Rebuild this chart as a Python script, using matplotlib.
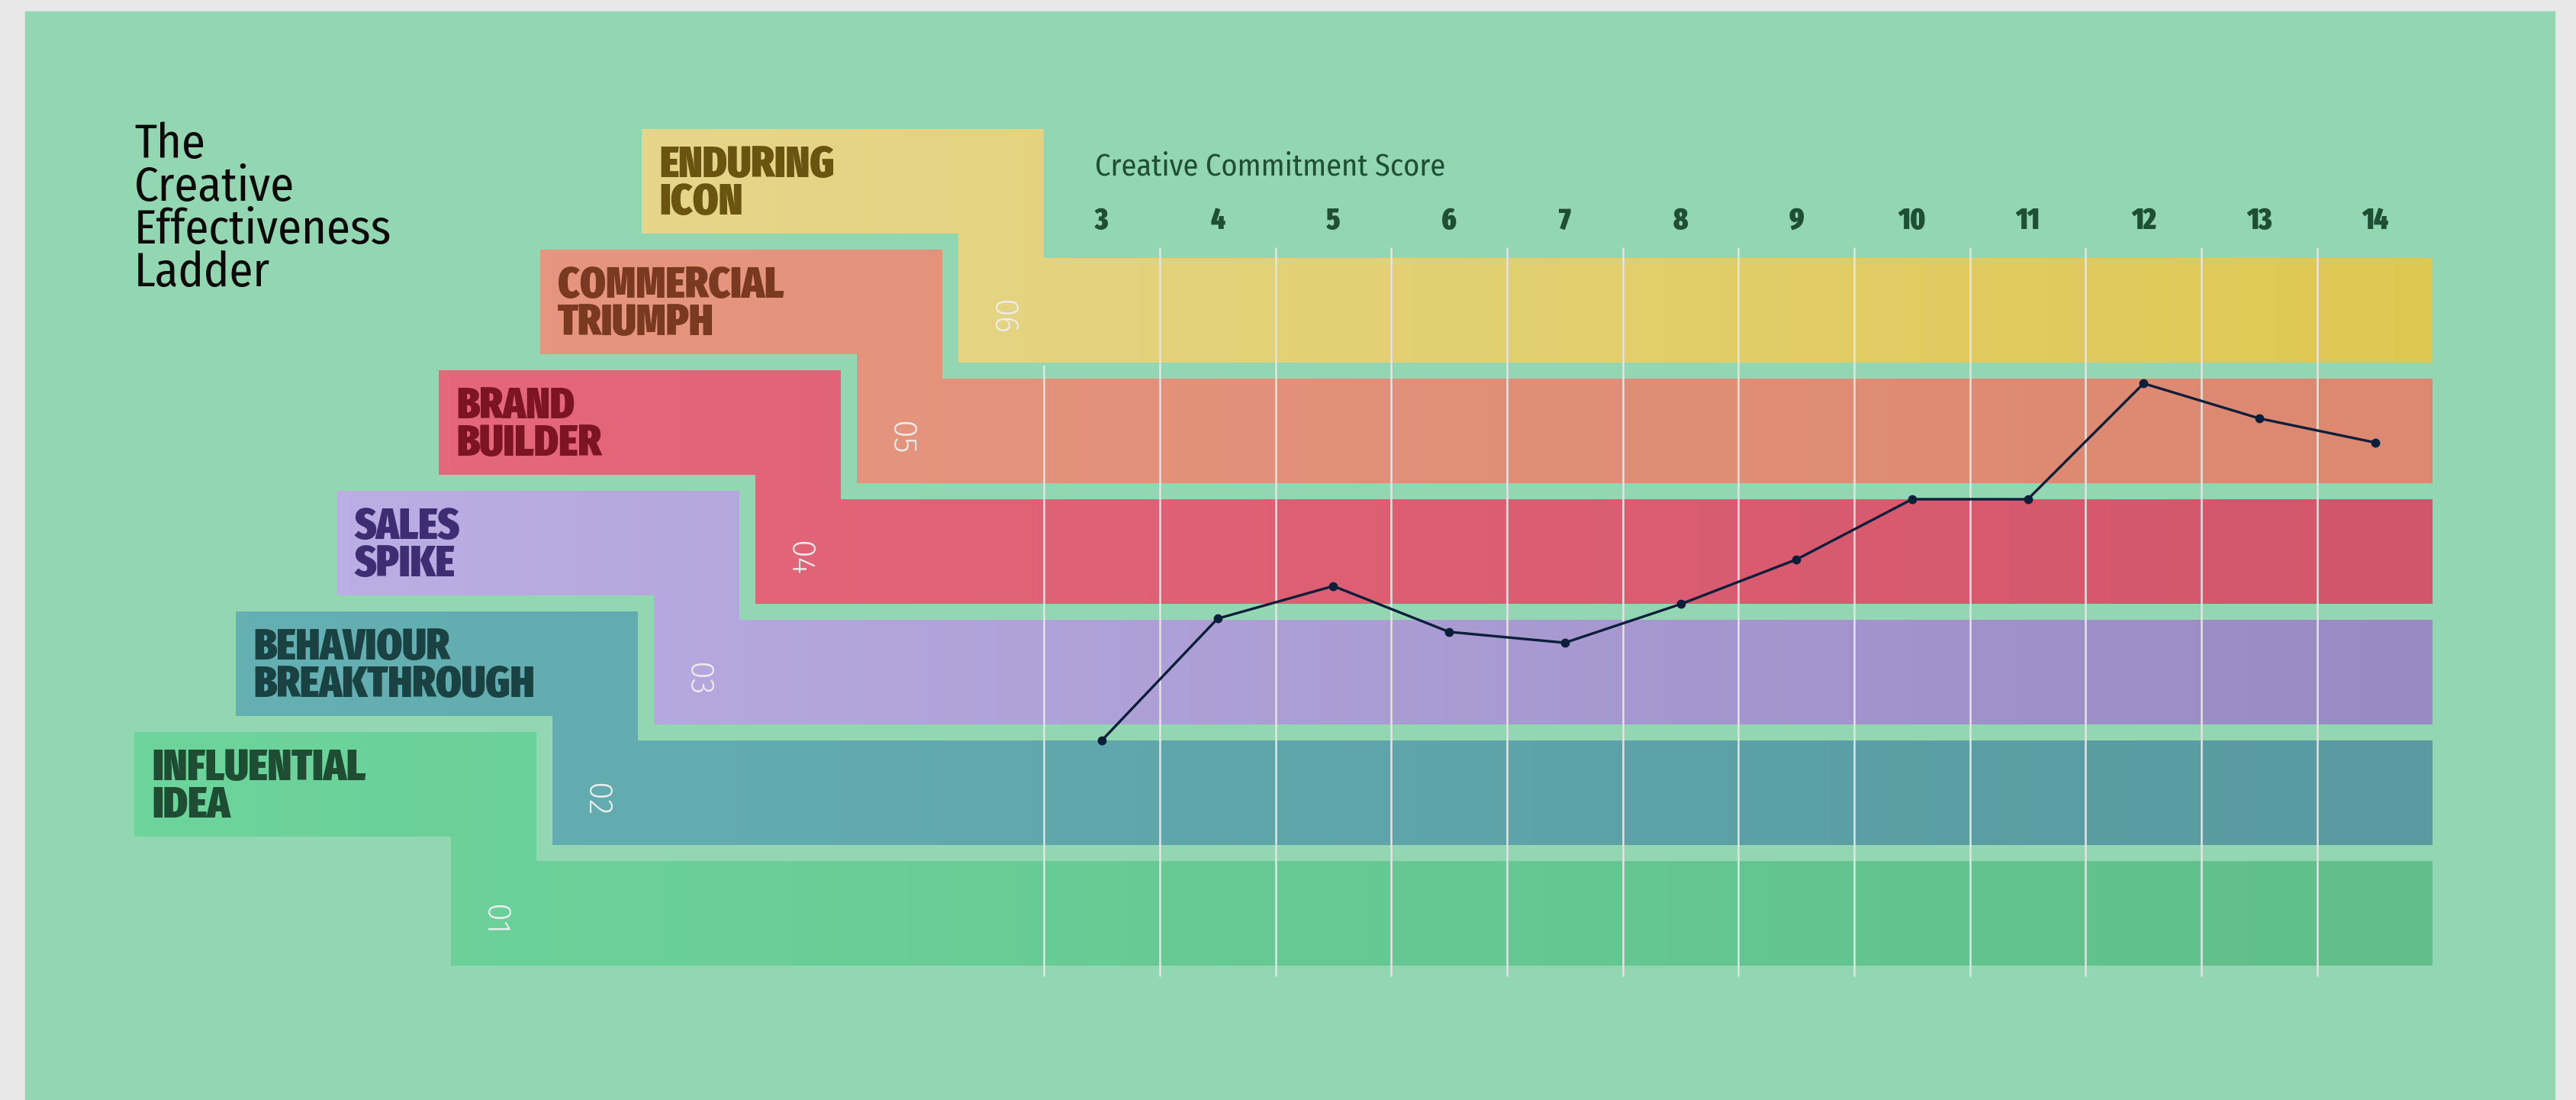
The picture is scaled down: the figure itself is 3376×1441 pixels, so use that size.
import matplotlib
matplotlib.use("Agg")
import matplotlib.pyplot as plt
import numpy as np
from matplotlib import font_manager as fm
from matplotlib.patches import Polygon, Rectangle
from matplotlib.colors import LinearSegmentedColormap

# ---------------- data ----------------
scores = [3, 4, 5, 6, 7, 8, 9, 10, 11, 12, 13, 14]
ladder_level = [2.44, 3.45, 3.72, 3.34, 3.25, 3.57, 3.94, 4.44, 4.44, 5.40, 5.11, 4.91]
level_names = ["INFLUENTIAL\nIDEA", "BEHAVIOUR\nBREAKTHROUGH", "SALES\nSPIKE",
               "BRAND\nBUILDER", "COMMERCIAL\nTRIUMPH", "ENDURING\nICON"]
level_numbers = ["01", "02", "03", "04", "05", "06"]
title_text = "The\nCreative\nEffectiveness\nLadder"
axis_title = "Creative Commitment Score"

# ---------------- styles ----------------
level_left_colors = ["#6dd49c", "#65b0b3", "#bbaee4", "#e5677a", "#e6967f", "#e6d68c"]
level_right_colors = ["#60bf8b", "#589a9f", "#9a8ac4", "#d2566b", "#dd8870", "#dfc852"]
level_text_colors = ["#1e4d33", "#1b4242", "#3f2d74", "#7c1424", "#7a3a22", "#6a5510"]
BG = "#e8e8e8"
PANEL = "#93d7b2"
DARK_GREEN = "#1f4f35"

names = {f.name for f in fm.fontManager.ttflist}
def pick(cands, default="DejaVu Sans"):
    for c in cands:
        if c in names:
            return c
    return default

HEAVY = pick(["Fira Sans Extra Condensed", "Fira Sans Condensed", "Pragati Narrow"])
COND = pick(["Fira Sans Condensed", "Roboto Condensed", "Archivo Narrow", "Liberation Sans"])
LIGHT = pick(["Fira Sans", "Roboto", "Lato"])

W, H, DPI = 3376, 1441, 100
fig = plt.figure(figsize=(W / DPI, H / DPI), dpi=DPI, facecolor=BG)

ax = fig.add_axes([0, 0, 1, 1])
ax.set_facecolor("none")
ax.axis("off")
ax.add_patch(Rectangle((33 / W, 0), (3348 - 33) / W, (H - 15) / H,
                       transform=ax.transAxes, color=PANEL, zorder=0))

renderer = fig.canvas.get_renderer()
def pitch_at_one(**kw):
    t1 = fig.text(0.5, 0.5, "A", linespacing=1.0, **kw)
    t2 = fig.text(0.5, 0.5, "A\nA", linespacing=1.0, **kw)
    h = t2.get_window_extent(renderer).height - t1.get_window_extent(renderer).height
    t1.remove()
    t2.remove()
    return h

# pixel -> data mapping (layout)
X0, DX = 1444.0, 151.7
Y0, DY = 1197.5, 158.0
def dx(px):
    return 3 + (px - X0) / DX
def dy(py):
    return 1 + (Y0 - py) / DY

label_kw = dict(fontsize=42, fontweight=900, family=HEAVY)
label_ls = 46.0 / pitch_at_one(**label_kw)

RIGHT = 3188
for i in range(6):
    L = 176 + i * 133
    R = L + 527
    C = R - 112
    T = 959 - i * 158
    BT = T + 169
    BB = BT + 137
    pts = [(L, T), (R, T), (R, BT), (RIGHT, BT), (RIGHT, BB), (C, BB), (C, T + 137), (L, T + 137)]
    poly = Polygon([(dx(x), dy(y)) for x, y in pts], closed=True, facecolor="none",
                   edgecolor="none", transform=ax.transData)
    ax.add_patch(poly)
    cmap = LinearSegmentedColormap.from_list("g%d" % i, [level_left_colors[i], level_right_colors[i]])
    grad = np.linspace(0, 1, 256).reshape(1, -1)
    im = ax.imshow(grad, cmap=cmap, extent=(dx(L), dx(RIGHT), dy(BB), dy(T)),
                   aspect="auto", interpolation="bilinear", zorder=2)
    im.set_clip_path(poly)
    # label text (baseline of last line)
    ax.text(dx(L + 23), dy(T + 66 + 46), level_names[i], color=level_text_colors[i],
            ha="left", va="baseline", linespacing=label_ls, zorder=6, **label_kw)
    # rotated number
    ax.text(dx(C + 57), dy(BT + 77), level_numbers[i], rotation=-90, fontsize=31,
            family=LIGHT, fontweight=300, color="#ededed",
            ha="center", va="center", zorder=6)

# gridlines between scores
grid_x = [s - 0.5 for s in scores]
ymins = [dy(1279)] * len(grid_x)
ymaxs = [dy(324)] * len(grid_x)
ymaxs[0] = dy(478)
ax.vlines(grid_x, ymins, ymaxs, colors="#e4e4e4", linewidth=1.8, zorder=3)

# tick labels
for s in scores:
    ax.text(s, dy(300), str(s), ha="center", va="baseline", fontsize=28, fontweight=900,
            family=HEAVY, color=DARK_GREEN, zorder=6)

# axis title
ax.text(dx(1435), dy(229), axis_title, ha="left", va="baseline", fontsize=29,
        family=COND, color=DARK_GREEN, zorder=6)

# chart title (baseline of last line)
title_kw = dict(fontsize=45, family=COND)
title_ls = 54.5 / pitch_at_one(**title_kw)
ax.text(dx(176), dy(211 + 3 * 54.5), title_text, ha="left", va="baseline",
        linespacing=title_ls, color="#0a0a0a", zorder=6, **title_kw)

# the line
ax.plot(scores, ladder_level, color="#0c1f3a", linewidth=2.4, marker="o", markersize=7.5,
        zorder=5)

ax.set_autoscale_on(False)
ax.set_xlim(dx(0), dx(W))
ax.set_ylim(dy(H), dy(0))

fig.savefig("out.png", dpi=DPI, facecolor=BG)
